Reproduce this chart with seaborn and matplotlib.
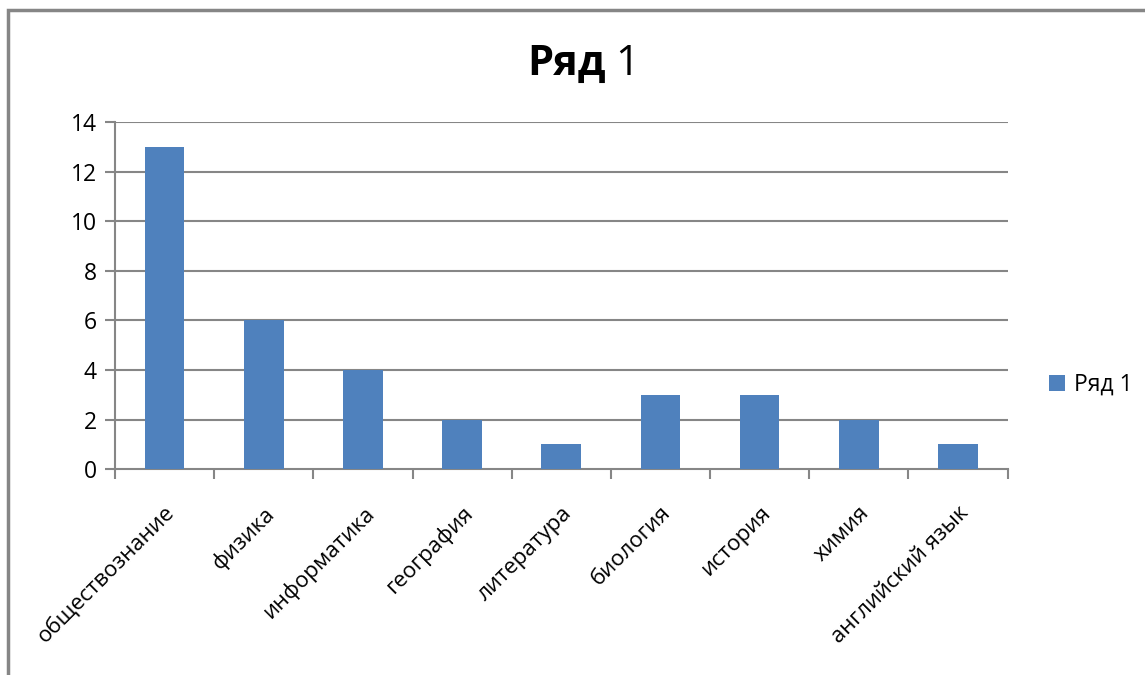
import matplotlib
matplotlib.use('Agg')
import matplotlib.pyplot as plt
import seaborn as sns
import pandas as pd
from matplotlib.patches import Rectangle, Patch

# Data
subjects = ['обществознание', 'физика', 'информатика', 'география', 'литература',
            'биология', 'история', 'химия', 'английский язык']
values = [13, 6, 4, 2, 1, 3, 3, 2, 1]
series_name = 'Ряд 1'
y_ticks = [0, 2, 4, 6, 8, 10, 12, 14]

df = pd.DataFrame({'subject': subjects, 'value': values})

sns.set_style('white')
plt.rcParams['font.family'] = ['Open Sans', 'DejaVu Sans']
plt.rcParams['text.color'] = 'black'
plt.rcParams['xtick.color'] = 'black'
plt.rcParams['ytick.color'] = 'black'

bar_color = '#4F81BD'
grid_color = '#868686'

fig = plt.figure(figsize=(11.45, 6.75), dpi=100)
ax = fig.add_axes([0.1004, 0.305, 0.7796, 0.514])

sns.barplot(data=df, x='subject', y='value', color=bar_color, width=0.4,
            saturation=1, linewidth=0, ax=ax, zorder=3)

ax.set_ylim(0, 14)
ax.set_xlim(-0.5, len(subjects) - 0.5)
ax.set_yticks(y_ticks)
ax.set_yticklabels([str(t) for t in y_ticks], fontsize=16.5)
ax.set_xlabel('')
ax.set_ylabel('')

# gridlines
for t in y_ticks[1:]:
    ax.axhline(t, color=grid_color, lw=1.5, zorder=1)

# x ticks at category boundaries
ax.set_xticks([i - 0.5 for i in range(len(subjects) + 1)], minor=True)
ax.set_xticks(range(len(subjects)))
ax.set_xticklabels(subjects, rotation=45, ha='right', rotation_mode='anchor', fontsize=16)
ax.tick_params(axis='x', which='major', length=0, pad=24)
ax.tick_params(axis='x', which='minor', length=7, width=1.5, color=grid_color, bottom=True)
ax.tick_params(axis='y', which='major', length=7, width=1.5, color=grid_color,
               labelcolor='black', left=True, pad=6)

for s in ['top', 'right']:
    ax.spines[s].set_visible(False)
for s in ['left', 'bottom']:
    ax.spines[s].set_color(grid_color)
    ax.spines[s].set_linewidth(1.5)

# title: bold "Ряд" + normal "1"
fig.text(0.529, 0.905, 'Ряд', fontsize=30, fontweight='bold', ha='right', va='center')
fig.text(0.537, 0.905, '1', fontsize=30, ha='left', va='center')

# legend
handle = Patch(facecolor=bar_color, edgecolor='none', label=series_name)
fig.legend(handles=[handle], loc='center left', bbox_to_anchor=(0.898, 0.43),
           frameon=False, fontsize=16.5, handlelength=0.7, handleheight=0.7,
           handletextpad=0.4)

# outer chart border (cropped at right/bottom)
fig.patches.append(Rectangle((8 / 1145, -0.1), 1.2, 1 - 10 / 675 + 0.1,
                             transform=fig.transFigure, fill=False,
                             edgecolor=grid_color, lw=2.5))

fig.savefig('out.png', dpi=100)
